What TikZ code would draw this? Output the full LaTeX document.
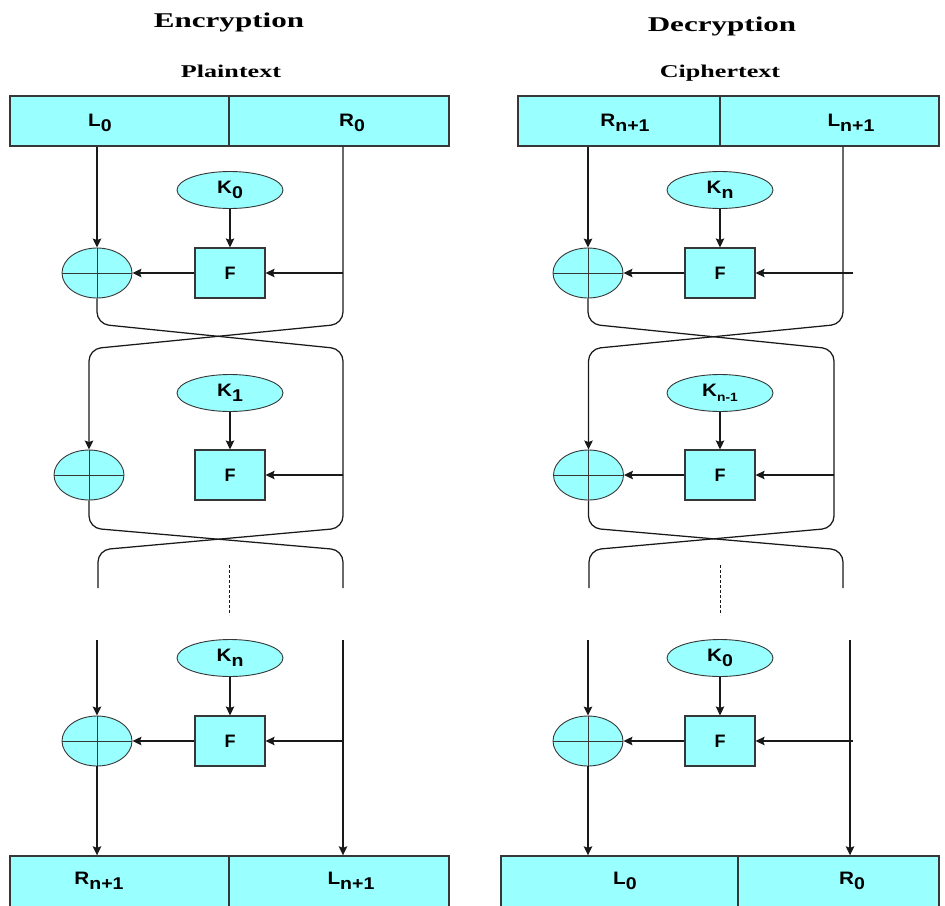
\documentclass[tikz,border=0pt]{standalone}
\usepackage{fontspec}
\usepackage{graphicx}
\setmainfont{Liberation Serif}
\newfontfamily\labelsans{Liberation Sans}
\usetikzlibrary{shapes.geometric,arrows.meta}

\definecolor{cellfill}{RGB}{153,255,255}
\definecolor{wirecol}{RGB}{25,25,25}
\definecolor{edgecol}{RGB}{55,55,55}

% symbol with a lowered, nearly full-size index
\newcommand\sym[3][17]{\scalebox{1.15}[1]{\labelsans\bfseries\fontsize{18}{18}\selectfont #2\raisebox{-5pt}{\fontsize{#1}{#1}\selectfont #3}}}
% wide serif heading
\newcommand\heading[3]{\scalebox{#3}[1]{\bfseries\fontsize{#2}{#2}\selectfont #1}}

\tikzset{
  block/.style={draw=edgecol, line width=1.4pt, fill=cellfill, minimum height=50pt, inner sep=0pt},
  keynode/.style={ellipse, draw=edgecol, line width=0.9pt, fill=cellfill, minimum width=106pt, minimum height=37pt, inner sep=0pt},
  fnode/.style={rectangle, draw=edgecol, line width=1.1pt, fill=cellfill, minimum width=70pt, minimum height=50pt, inner sep=0pt, font=\labelsans\bfseries\fontsize{18}{18}\selectfont},
  xornode/.style={ellipse, draw=edgecol, line width=0.9pt, fill=cellfill, minimum width=70pt, minimum height=50pt, inner sep=0pt,
    path picture={\draw[edgecol, line width=0.9pt]
      (path picture bounding box.west) -- (path picture bounding box.east)
      (path picture bounding box.north) -- (path picture bounding box.south);}},
  wire/.style={draw=wirecol, line width=1.25pt},
  arr/.style={wire, -{Stealth[length=9pt, width=8.5pt, inset=1.5pt]}},
  swap/.style={wire, rounded corners=12pt},
  dots/.style={wire, line width=0.9pt, dash pattern=on 2.5pt off 2.5pt},
  txt/.style={anchor=base, inner sep=0pt}
}

\begin{document}
\begin{tikzpicture}[x=1pt, y=-1pt]
\clip (0,0) rectangle (945,905);
\fill[white] (0,0) rectangle (945,905);

% ---------------- Encryption ----------------
\node[txt] (encTitle) at (229,27) {\heading{Encryption}{21}{1.48}};
\node[txt] (encIn) at (231,77) {\heading{Plaintext}{18}{1.45}};

\node[block, minimum width=219pt] (eTopL) at (119.5,121) {};
\node[block, minimum width=220pt] (eTopR) at (339,121) {};
\node[txt] (eTopLt) at (100,126) {\sym{L}{0}};
\node[txt] (eTopRt) at (352,126) {\sym{R}{0}};

% round 0
\node[keynode] (eK0) at (230,190) {\sym{K}{0}};
\node[fnode] (eF0) at (230,273) {F};
\node[xornode] (eX0) at (97,273) {};
\coordinate (eR0in) at (343,273);
\draw[arr] (eTopL.south -| eX0) -- (eX0.north);
\draw[arr] (eK0) -- (eF0);
\draw[arr] (eR0in) -- (eF0);
\draw[arr] (eF0) -- (eX0);

% round 1
\node[keynode] (eK1) at (230,393) {\sym{K}{1}};
\node[fnode] (eF1) at (230,475) {F};
\node[xornode] (eX1) at (89,475) {};
\coordinate (eR1in) at (343,475);
\draw[arr] (eK1) -- (eF1);
\draw[arr] (eR1in) -- (eF1);

% first swap
\coordinate (eS1a) at (97,324);
\coordinate (eS1b) at (343,349);
\coordinate (eS1c) at (343,324);
\coordinate (eS1d) at (89,349);
\draw[swap] (eX0.south) -- (eS1a) -- (eS1b) -- (eR1in);
\draw[swap, arr] (eTopR.south -| eR0in) -- (eR0in) -- (eS1c) -- (eS1d) -- (eX1.north);

% second swap
\coordinate (eS2a) at (89,528);
\coordinate (eS2b) at (343,550);
\coordinate (eS2c) at (343,528);
\coordinate (eS2d) at (98,550);
\coordinate (eEndL) at (98,588);
\coordinate (eEndR) at (343,588);
\draw[swap] (eX1.south) -- (eS2a) -- (eS2b) -- (eEndR);
\draw[swap] (eR1in) -- (eS2c) -- (eS2d) -- (eEndL);

% omitted rounds
\coordinate (eDotA) at (229,565);
\coordinate (eDotB) at (229,615);
\draw[dots] (eDotA) -- (eDotB);

% round n
\node[keynode] (eKn) at (230,658) {\sym{K}{n}};
\node[fnode] (eFn) at (230,741) {F};
\node[xornode] (eXn) at (97,741) {};
\coordinate (eLnTop) at (97,640);
\coordinate (eRnTop) at (343,640);
\coordinate (eRnin) at (343,741);

\node[block, minimum width=219pt, minimum height=58pt] (eBotL) at (119.5,885) {};
\node[block, minimum width=220pt, minimum height=58pt] (eBotR) at (339,885) {};
\node[txt] (eBotLt) at (99,884) {\sym{R}{n+1}};
\node[txt] (eBotRt) at (351,884) {\sym{L}{n+1}};

\draw[arr] (eLnTop) -- (eXn.north);
\draw[arr] (eKn) -- (eFn);
\draw[arr] (eRnin) -- (eFn);
\draw[arr] (eFn) -- (eXn);
\draw[arr] (eXn.south) -- (eXn.south |- eBotL.north);
\draw[arr] (eRnTop) -- (eRnTop |- eBotR.north);

% ---------------- Decryption ----------------
\node[txt] (decTitle) at (722,31) {\heading{Decryption}{21}{1.48}};
\node[txt] (decIn) at (720,77) {\heading{Ciphertext}{18}{1.45}};

\node[block, minimum width=202pt] (dTopL) at (619,121) {};
\node[block, minimum width=219pt] (dTopR) at (829.5,121) {};
\node[txt] (dTopLt) at (625,126) {\sym{R}{n+1}};
\node[txt] (dTopRt) at (851,126) {\sym{L}{n+1}};

% round 0
\node[keynode] (dK0) at (720,190) {\sym{K}{n}};
\node[fnode] (dF0) at (720,273) {F};
\node[xornode] (dX0) at (588,273) {};
\coordinate (dR0) at (843,273);
\coordinate (dR0in) at (853,273);
\draw[arr] (dTopL.south -| dX0) -- (dX0.north);
\draw[arr] (dK0) -- (dF0);
\draw[arr] (dR0in) -- (dF0);
\draw[arr] (dF0) -- (dX0);

% round 1
\node[keynode] (dK1) at (720,393) {\sym[12]{K}{n-1}};
\node[fnode] (dF1) at (720,475) {F};
\node[xornode] (dX1) at (588.5,475) {};
\coordinate (dR1in) at (834,475);
\draw[arr] (dK1) -- (dF1);
\draw[arr] (dR1in) -- (dF1);
\draw[arr] (dF1) -- (dX1);

% first swap
\coordinate (dS1a) at (588,324);
\coordinate (dS1b) at (834,349);
\coordinate (dS1c) at (843,324);
\coordinate (dS1d) at (588.5,349);
\draw[swap] (dX0.south) -- (dS1a) -- (dS1b) -- (dR1in);
\draw[swap, arr] (dTopR.south -| dR0) -- (dR0) -- (dS1c) -- (dS1d) -- (dX1.north);

% second swap
\coordinate (dS2a) at (588.5,528);
\coordinate (dS2b) at (843,550);
\coordinate (dS2c) at (834,528);
\coordinate (dS2d) at (589,550);
\coordinate (dEndL) at (589,588);
\coordinate (dEndR) at (843,588);
\draw[swap] (dX1.south) -- (dS2a) -- (dS2b) -- (dEndR);
\draw[swap] (dR1in) -- (dS2c) -- (dS2d) -- (dEndL);

% omitted rounds
\coordinate (dDotA) at (720,565);
\coordinate (dDotB) at (720,615);
\draw[dots] (dDotA) -- (dDotB);

% round n
\node[keynode] (dKn) at (720,658) {\sym{K}{0}};
\node[fnode] (dFn) at (720,741) {F};
\node[xornode] (dXn) at (588,741) {};
\coordinate (dLnTop) at (588,640);
\coordinate (dRnTop) at (850,640);
\coordinate (dRnin) at (853,741);

\node[block, minimum width=237pt, minimum height=58pt] (dBotL) at (619.5,885) {};
\node[block, minimum width=201pt, minimum height=58pt] (dBotR) at (838.5,885) {};
\node[txt] (dBotLt) at (625,884) {\sym{L}{0}};
\node[txt] (dBotRt) at (852,884) {\sym{R}{0}};

\draw[arr] (dLnTop) -- (dXn.north);
\draw[arr] (dKn) -- (dFn);
\draw[arr] (dRnin) -- (dFn);
\draw[arr] (dFn) -- (dXn);
\draw[arr] (dXn.south) -- (dXn.south |- dBotL.north);
\draw[arr] (dRnTop) -- (dRnTop |- dBotR.north);
\end{tikzpicture}
\end{document}
